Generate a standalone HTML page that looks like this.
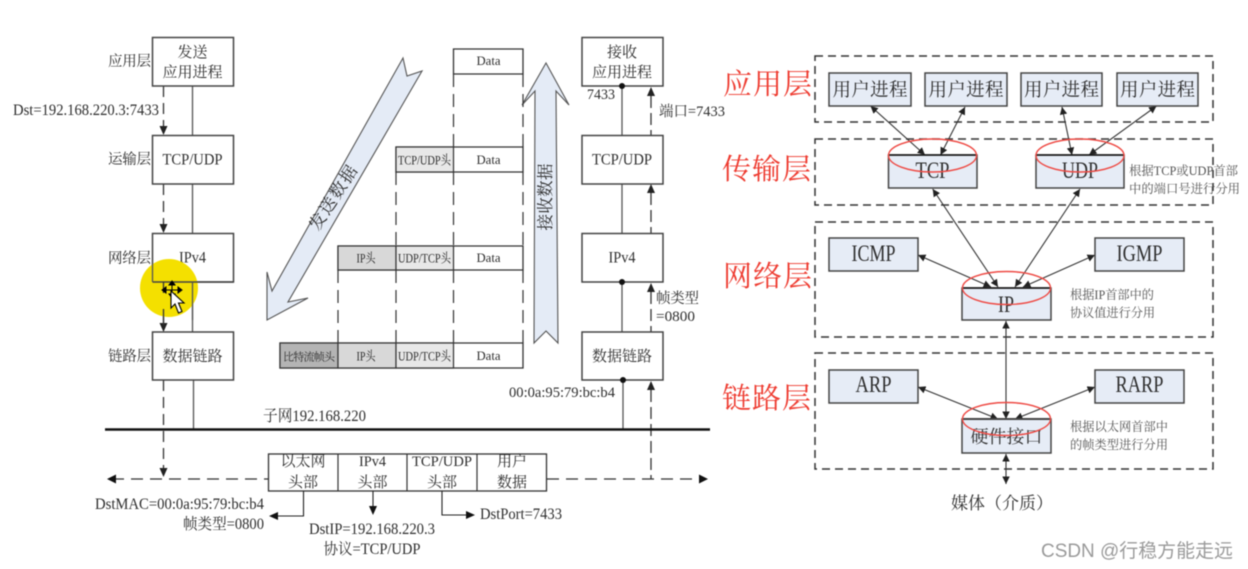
<!DOCTYPE html>
<html lang="zh">
<head>
<meta charset="utf-8">
<title>TCP/IP</title>
<style>
html,body{margin:0;padding:0;background:#fff;width:1248px;height:569px;overflow:hidden}
svg{display:block;filter:blur(.5px)}
text{font-family:"Liberation Serif","Noto Serif CJK SC",serif;fill:#2e2e2e}
.m{text-anchor:middle}
.e{text-anchor:end}
.b{fill:#fff;stroke:#444;stroke-width:1.5}
.f{fill:#e6ecf6;stroke:#444;stroke-width:1.5}
.s{stroke:#555;stroke-width:1.3;fill:none}
.d{stroke:#333;stroke-width:1.3;fill:none;stroke-dasharray:11 6}
.z{fill:none;stroke:#333;stroke-width:1.5;stroke-dasharray:8 5}
.a{stroke:#333;stroke-width:1.1;fill:none;marker-start:url(#ar);marker-end:url(#ar)}
.r{fill:#ee3b30;font-size:29px}
.o{fill:none;stroke:#ee4a44;stroke-width:1.4}
</style>
</head>
<body>
<svg width="1248" height="569" viewBox="0 0 1248 569" xmlns="http://www.w3.org/2000/svg">
<defs>
<marker id="ar" viewBox="0 0 10 10" refX="10" refY="5" markerWidth="7.500" markerHeight="7.500" markerUnits="userSpaceOnUse" orient="auto-start-reverse"><path d="M0 0L10 5L0 10Z" fill="#222"/></marker>
</defs>
<rect width="1248" height="569" fill="#fff"/>

<!-- left stack connectors -->
<path class="s" d="M192.500 86V135M192.500 184V233M192.500 282V332M193.500 380V430"/>
<path class="d" d="M163.500 86V128M163.500 184V226M163.500 282V325M163.500 380V470"/>
<path fill="#222" d="M159.500 126h8l-4 9zM159.500 224h8l-4 9zM159.500 323h8l-4 9zM159.500 468h8l-4 9z"/>
<rect class="b" x="152.500" y="37.500" width="81" height="48.500"/>
<rect class="b" x="152.500" y="135.500" width="81" height="48.500"/>
<rect class="b" x="152.500" y="233.500" width="81" height="48.500" style="fill:none"/>
<rect class="b" x="152.500" y="332" width="81" height="48"/>
<g font-size="15">
<text x="192.500" y="57" class="m">发送</text>
<text x="192.500" y="77" class="m">应用进程</text>
<text x="192.500" y="164.500" class="m" font-size="16" textLength="60" lengthAdjust="spacingAndGlyphs">TCP/UDP</text>
<text x="192.500" y="262.500" class="m" font-size="16" textLength="27" lengthAdjust="spacingAndGlyphs">IPv4</text>
<text x="192.500" y="361" class="m">数据链路</text>
</g>
<g font-size="14.500" fill="#444">
<text x="108" y="66" textLength="43">应用层</text>
<text x="108" y="164" textLength="43">运输层</text>
<text x="108" y="263" textLength="43">网络层</text>
<text x="108" y="361" textLength="43">链路层</text>
<text x="13" y="115" font-size="15.500" textLength="146" lengthAdjust="spacingAndGlyphs">Dst=192.168.220.3:7433</text>
</g>

<!-- yellow highlight and cursor -->
<circle cx="169" cy="288" r="29" fill="#f4e000"/>
<path d="M152.500 282H233.500" stroke="#444" stroke-width="1.500"/>
<path d="M152.500 262V282M192.500 282V320" stroke="#555" stroke-width="1.300"/>
<path d="M163.500 282V293M163.500 309V325" stroke="#333" stroke-width="1.300"/>
<path d="M172 281l-3 4h6zM172 298l-3-4h6zM162 290l4-3v6zM182 290l-4-3v6zM166 290H178M172 285V295" fill="#000" stroke="#000" stroke-width="1"/>
<path d="M171 291L171 308L175 304L178.500 313L182 311.500L178.500 303L184 303Z" fill="#fff" stroke="#000" stroke-width="1.100"/>

<!-- send arrow -->
<polygon points="267,320 267,272 272,291 403,58 407,76 422,71 288,302 308,298" fill="#e4ebf6" stroke="#555" stroke-width="1.100"/>
<text transform="translate(338,201) rotate(-57)" class="m" font-size="17" textLength="73">发送数据</text>

<!-- receive arrow -->
<polygon points="546,63 569,105 556,91 558,343 546,331 534,343 535,91 522,105" fill="#e4ebf6" stroke="#555" stroke-width="1.100"/>
<text transform="translate(551,197) rotate(-90)" class="m" font-size="16.500" textLength="67">接收数据</text>

<!-- packet rows -->
<g fill="#fff" stroke="#333" stroke-width="1.300">
<path d="M453.500 49H523V74H453.500Z"/>
<path d="M396 147H523V172H396Z"/>
<path d="M338 246H523V270H338Z"/>
<path d="M280 343H523V368H280Z"/>
</g>
<g stroke="#333" stroke-width="1.200">
<rect x="396" y="147" width="57.500" height="25" fill="#e8e8e8"/>
<rect x="338" y="246" width="58" height="24" fill="#d8d8d8"/>
<rect x="396" y="246" width="57.500" height="24" fill="#e8e8e8"/>
<rect x="280" y="343" width="58" height="25" fill="#b4b4b4"/>
<rect x="338" y="343" width="58" height="25" fill="#d8d8d8"/>
<rect x="396" y="343" width="57.500" height="25" fill="#e8e8e8"/>
</g>
<path d="M523 74V147M453.500 74V147M523 172V246M453.500 172V246M396 172V246M523 270V343M453.500 270V343M396 270V343M338 270V343" stroke="#333" stroke-width="1.200" stroke-dasharray="13 7" fill="none"/>
<g font-size="13">
<text x="488.500" y="65" class="m" textLength="24" lengthAdjust="spacingAndGlyphs">Data</text>
<text x="488.500" y="164" class="m" textLength="24" lengthAdjust="spacingAndGlyphs">Data</text>
<text x="488.500" y="262" class="m" textLength="24" lengthAdjust="spacingAndGlyphs">Data</text>
<text x="488.500" y="360" class="m" textLength="24" lengthAdjust="spacingAndGlyphs">Data</text>
<text x="398" y="164.500" font-size="13" textLength="53" lengthAdjust="spacingAndGlyphs">TCP/UDP头</text>
<text x="398" y="262.500" font-size="13" textLength="53" lengthAdjust="spacingAndGlyphs">UDP/TCP头</text>
<text x="398" y="360.500" font-size="13" textLength="53" lengthAdjust="spacingAndGlyphs">UDP/TCP头</text>
<text x="366" y="262.500" class="m" textLength="19" lengthAdjust="spacingAndGlyphs">IP头</text>
<text x="366" y="360.500" class="m" textLength="19" lengthAdjust="spacingAndGlyphs">IP头</text>
<text x="283" y="360.500" font-size="11" textLength="52">比特流帧头</text>
</g>

<!-- receiver stack -->
<path class="s" d="M622 86V135M622 184V233M622 282V332M623 380V430"/>
<path class="d" d="M651 96V135M651 193V233M651 292V332M651 390V479" style="stroke-dasharray:12 5"/>
<path fill="#222" d="M647 96h8l-4-9zM647 193h8l-4-9zM647 292h8l-4-9zM647 390h8l-4-9z"/>
<rect class="b" x="582" y="37.500" width="81" height="48.500"/>
<rect class="b" x="582" y="135.500" width="81" height="48.500"/>
<rect class="b" x="582" y="233.500" width="81" height="48.500"/>
<rect class="b" x="582" y="332" width="81" height="48"/>
<circle cx="622" cy="86" r="3" fill="#111"/>
<circle cx="622" cy="282" r="3" fill="#111"/>
<circle cx="623" cy="380" r="3" fill="#111"/>
<g font-size="15">
<text x="622" y="57" class="m">接收</text>
<text x="622" y="77" class="m">应用进程</text>
<text x="622" y="164.500" class="m" font-size="16" textLength="60" lengthAdjust="spacingAndGlyphs">TCP/UDP</text>
<text x="622" y="262.500" class="m" font-size="16" textLength="27" lengthAdjust="spacingAndGlyphs">IPv4</text>
<text x="622" y="361" class="m">数据链路</text>
</g>
<g font-size="15">
<text x="587" y="99" textLength="28" lengthAdjust="spacingAndGlyphs">7433</text>
<text x="659" y="116" textLength="66" lengthAdjust="spacingAndGlyphs">端口=7433</text>
<text x="656" y="303" font-size="14.500" textLength="43">帧类型</text>
<text x="656" y="321" textLength="39" lengthAdjust="spacingAndGlyphs">=0800</text>
<text x="509" y="397" textLength="106" lengthAdjust="spacingAndGlyphs">00:0a:95:79:bc:b4</text>
<text x="263" y="421" font-size="16" textLength="103" lengthAdjust="spacingAndGlyphs">子网192.168.220</text>
</g>

<!-- subnet line -->
<path d="M105 429.500H710" stroke="#111" stroke-width="2.400"/>

<!-- bottom frame -->
<path d="M112 479H268M547 479H702" stroke="#333" stroke-width="1.200" stroke-dasharray="12 7" fill="none"/>
<path fill="#111" d="M107 479l9-4.500v9zM708 479l-9-4.500v9z"/>
<rect x="268.500" y="454" width="278" height="37" fill="#fff" stroke="#333" stroke-width="1.300"/>
<path d="M338 454V491M407 454V491M477 454V491" stroke="#333" stroke-width="1.200"/>
<g font-size="15">
<text x="303" y="466" class="m">以太网</text>
<text x="303" y="487" class="m">头部</text>
<text x="372.500" y="466" class="m" textLength="27" lengthAdjust="spacingAndGlyphs">IPv4</text>
<text x="372.500" y="487" class="m">头部</text>
<text x="442" y="466" class="m" textLength="60" lengthAdjust="spacingAndGlyphs">TCP/UDP</text>
<text x="442" y="487" class="m">头部</text>
<text x="512" y="466" class="m">用户</text>
<text x="512" y="487" class="m">数据</text>
</g>
<path d="M303.500 491V516H276M373 491V508M442 491V515H468" stroke="#222" stroke-width="1.100" fill="none"/>
<path fill="#111" d="M269 516l9-4v8zM373 515l-4-9h8zM475 515l-9-4v8z"/>
<g font-size="15.500">
<text x="264" y="509" class="e" textLength="169" lengthAdjust="spacingAndGlyphs">DstMAC=00:0a:95:79:bc:b4</text>
<text x="264" y="529" class="e" textLength="81" lengthAdjust="spacingAndGlyphs">帧类型=0800</text>
<text x="372" y="534" class="m" textLength="126" lengthAdjust="spacingAndGlyphs">DstIP=192.168.220.3</text>
<text x="372" y="554" class="m" textLength="97" lengthAdjust="spacingAndGlyphs">协议=TCP/UDP</text>
<text x="480" y="519" textLength="82" lengthAdjust="spacingAndGlyphs">DstPort=7433</text>
</g>

<!-- right diagram dashed groups -->
<rect class="z" x="815" y="56" width="398" height="66"/>
<rect class="z" x="815" y="139" width="398" height="66"/>
<rect class="z" x="815" y="222" width="398" height="115"/>
<rect class="z" x="815" y="353" width="398" height="116"/>

<!-- red labels -->
<text class="r" x="723" y="94" textLength="89">应用层</text>
<text class="r" x="722" y="179" textLength="89">传输层</text>
<text class="r" x="723" y="286" textLength="89">网络层</text>
<text class="r" x="722" y="408" textLength="89">链路层</text>

<!-- arrows -->
<path class="a" d="M870.500 106L925 155"/>
<path class="a" d="M965 107L940.500 155"/>
<path class="a" d="M1062 107L1072 155"/>
<path class="a" d="M1156.500 106L1089 155"/>
<path class="a" d="M932.700 189L998 287"/>
<path class="a" d="M1080 189L1015 287"/>
<path class="a" d="M918 255L991 287"/>
<path class="a" d="M1095 255L1023 287"/>
<path class="a" d="M1006 321V419"/>
<path class="a" d="M918 387L998 419"/>
<path class="a" d="M1095 387L1015 419"/>
<path class="a" d="M1006 454V484"/>

<!-- right diagram boxes -->
<rect class="f" x="829" y="73" width="82" height="33"/>
<rect class="f" x="925" y="73" width="82" height="33"/>
<rect class="f" x="1021" y="73" width="81" height="33"/>
<rect class="f" x="1117" y="73" width="81" height="33"/>
<rect class="f" x="888.500" y="155" width="88.500" height="33"/>
<rect class="f" x="1036" y="155" width="88" height="33"/>
<rect class="f" x="829" y="238" width="89" height="33"/>
<rect class="f" x="1095" y="238" width="89" height="33"/>
<rect class="f" x="962" y="288" width="89" height="32"/>
<rect class="f" x="829" y="370" width="89" height="33"/>
<rect class="f" x="1095" y="370" width="89" height="33"/>
<rect class="f" x="962" y="419" width="89" height="34"/>
<path d="M888.500 155H977M1036 155H1124M962 288H1051" stroke="#111" stroke-width="1.500"/>
<path d="M962 419H1051" stroke="#444" stroke-width="2"/>

<g font-size="18.500">
<text x="870" y="96" class="m" textLength="75">用户进程</text>
<text x="966" y="96" class="m" textLength="75">用户进程</text>
<text x="1061.500" y="96" class="m" textLength="75">用户进程</text>
<text x="1157.500" y="96" class="m" textLength="75">用户进程</text>
</g>
<g font-size="23">
<text x="932.500" y="178" class="m" textLength="34" lengthAdjust="spacingAndGlyphs">TCP</text>
<text x="1080" y="178" class="m" textLength="36" lengthAdjust="spacingAndGlyphs">UDP</text>
<text x="873.500" y="261" class="m" textLength="44" lengthAdjust="spacingAndGlyphs">ICMP</text>
<text x="1139.500" y="261" class="m" textLength="46" lengthAdjust="spacingAndGlyphs">IGMP</text>
<text x="1006" y="312" class="m" textLength="16" lengthAdjust="spacingAndGlyphs">IP</text>
<text x="873.500" y="392" class="m" textLength="36" lengthAdjust="spacingAndGlyphs">ARP</text>
<text x="1139.500" y="392" class="m" textLength="48" lengthAdjust="spacingAndGlyphs">RARP</text>
<text x="1006.500" y="443" class="m" font-size="18" textLength="72">硬件接口</text>
</g>
<ellipse class="o" cx="932.500" cy="155.500" rx="44" ry="16.500"/>
<ellipse class="o" cx="1080" cy="155.500" rx="44" ry="16.500"/>
<ellipse class="o" cx="1006.500" cy="288" rx="44" ry="16.500"/>
<ellipse class="o" cx="1006.500" cy="419" rx="44" ry="16.500"/>

<!-- notes -->
<g font-size="12.500" style="fill:#555">
<text x="1129" y="175" textLength="109" lengthAdjust="spacingAndGlyphs" style="fill:#555">根据TCP或UDP首部</text>
<text x="1129" y="193" textLength="111" lengthAdjust="spacingAndGlyphs" style="fill:#555">中的端口号进行分用</text>
<text x="1070" y="299" textLength="84" lengthAdjust="spacingAndGlyphs" style="fill:#555">根据IP首部中的</text>
<text x="1070" y="317" textLength="85" lengthAdjust="spacingAndGlyphs" style="fill:#555">协议值进行分用</text>
<text x="1070" y="431" textLength="98" lengthAdjust="spacingAndGlyphs" style="fill:#555">根据以太网首部中</text>
<text x="1070" y="449" textLength="98" lengthAdjust="spacingAndGlyphs" style="fill:#555">的帧类型进行分用</text>
</g>
<text x="951" y="509" font-size="17" textLength="102">媒体（介质）</text>

<!-- watermark -->
<text x="1041" y="557" font-size="19" textLength="192" lengthAdjust="spacingAndGlyphs" style="font-family:'Liberation Sans','Noto Sans CJK SC',sans-serif;fill:#9a9a9a">CSDN @行稳方能走远</text>
</svg>
</body>
</html>
